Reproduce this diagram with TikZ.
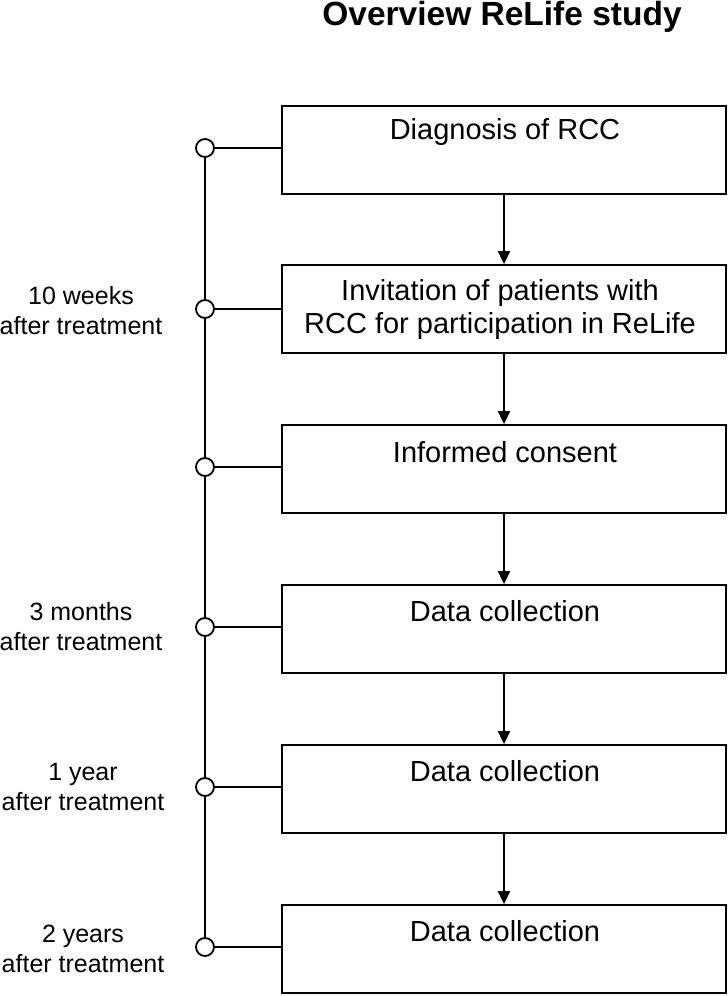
\documentclass[tikz,border=0pt]{standalone}
\usepackage{fontspec}
\setmainfont{Liberation Sans}
\usetikzlibrary{arrows.meta}
\begin{document}
\begin{tikzpicture}[x=1pt,y=-1pt,
  stagebox/.style={draw,line width=1.8pt,minimum width=444pt,minimum height=88pt,inner sep=0pt},
  boxtext/.style={font=\fontsize{29}{33}\selectfont,align=center,inner sep=0pt},
  sidetext/.style={font=\fontsize{25}{30}\selectfont,align=center,inner sep=0pt},
  dot/.style={draw,circle,line width=1.8pt,fill=white,minimum size=18pt,inner sep=0pt},
  link/.style={line width=1.3pt},
  flow/.style={line width=1.8pt,-{Triangle[length=13pt,width=12pt]}}]
\useasboundingbox (0,0) rectangle (728,996);
\node[font=\fontsize{33.5}{40}\selectfont\bfseries,inner sep=0pt] (title) at (502,17) {Overview ReLife study};
% boxes
\node[stagebox] (b1) at (504,150) {};
\node[stagebox] (b2) at (504,309) {};
\node[stagebox] (b3) at (504,469) {};
\node[stagebox] (b4) at (504,629) {};
\node[stagebox] (b5) at (504,789) {};
\node[stagebox] (b6) at (504,949) {};
% box texts
\node[boxtext] (t1) at (505,132) {Diagnosis of RCC};
\node[boxtext] (t2) at (500,309) {Invitation of patients with\\RCC for participation in ReLife};
\node[boxtext] (t3) at (505,452) {Informed consent};
\node[boxtext] (t4) at (505,611) {Data collection};
\node[boxtext] (t5) at (505,771) {Data collection};
\node[boxtext] (t6) at (505,931) {Data collection};
% circles
\node[dot] (c1) at (205,148) {};
\node[dot] (c2) at (205,309) {};
\node[dot] (c3) at (205,467) {};
\node[dot] (c4) at (205,627) {};
\node[dot] (c5) at (205,787) {};
\node[dot] (c6) at (205,947) {};
% side labels
\node[sidetext] (l2) at (81,311) {10 weeks\\after treatment};
\node[sidetext] (l4) at (81,627) {3 months\\after treatment};
\node[sidetext] (l5) at (83,787) {1 year\\after treatment};
\node[sidetext] (l6) at (83,949) {2 years\\after treatment};
% timeline
\draw[link] (c1.south) -- (c2.north);
\draw[link] (c2.south) -- (c3.north);
\draw[link] (c3.south) -- (c4.north);
\draw[link] (c4.south) -- (c5.north);
\draw[link] (c5.south) -- (c6.north);
\draw[link] (c1.east) -- (c1.east -| b1.west);
\draw[link] (c2.east) -- (c2.east -| b2.west);
\draw[link] (c3.east) -- (c3.east -| b3.west);
\draw[link] (c4.east) -- (c4.east -| b4.west);
\draw[link] (c5.east) -- (c5.east -| b5.west);
\draw[link] (c6.east) -- (c6.east -| b6.west);
% arrows
\draw[flow] (b1.south) -- (b2.north);
\draw[flow] (b2.south) -- (b3.north);
\draw[flow] (b3.south) -- (b4.north);
\draw[flow] (b4.south) -- (b5.north);
\draw[flow] (b5.south) -- (b6.north);
\end{tikzpicture}
\end{document}
